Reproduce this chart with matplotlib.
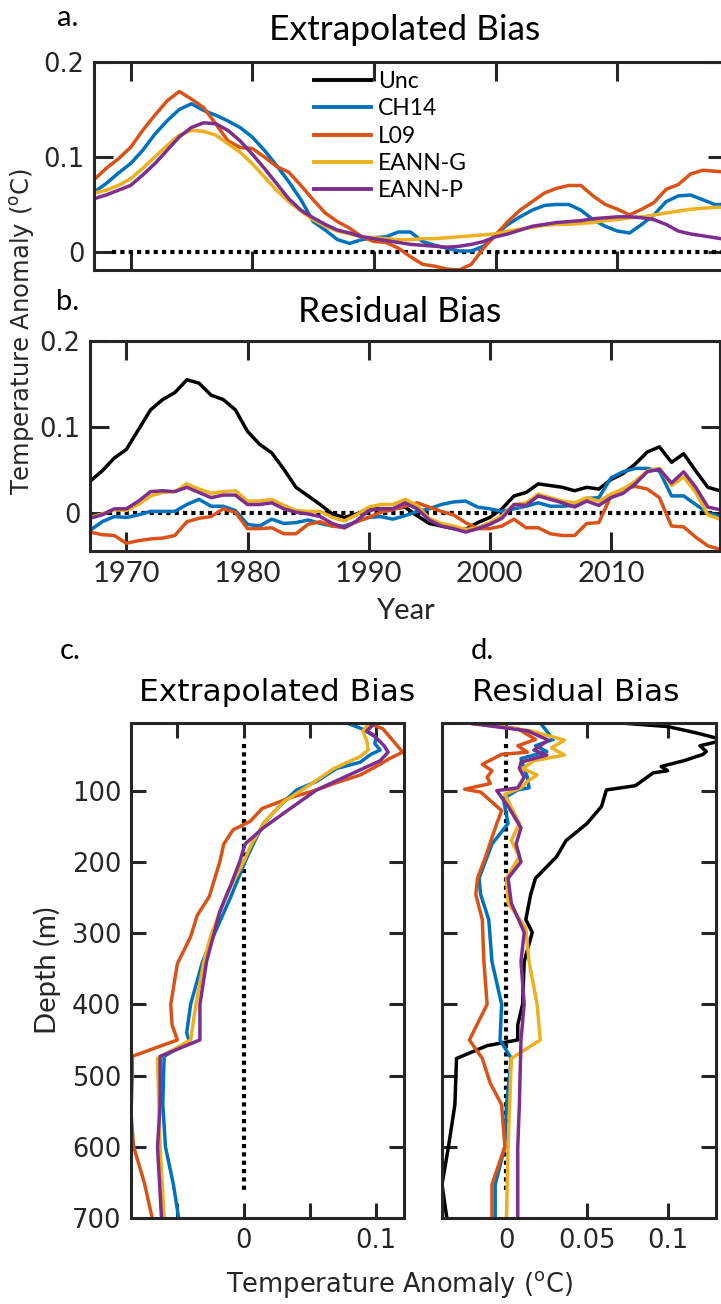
import numpy as np
import matplotlib
matplotlib.use("Agg")
import matplotlib.pyplot as plt
from matplotlib.lines import Line2D

# ---- data -------------------------------------------------------------
years = list(range(1967, 2020))

labels = ['Unc', 'CH14', 'L09', 'EANN-G', 'EANN-P']
colors = ['#000000', '#0072BD', '#D95319', '#EDB120', '#7E2F8E']

# a. extrapolated bias vs year
a_ch14 = [0.063, 0.072, 0.083, 0.093, 0.107, 0.124, 0.138, 0.150, 0.156, 0.149,
          0.144, 0.138, 0.131, 0.121, 0.107, 0.091, 0.074, 0.055, 0.032, 0.023,
          0.013, 0.009, 0.013, 0.015, 0.016, 0.021, 0.021, 0.011, 0.007, 0.004,
          0.001, 0.001, 0.006, 0.018, 0.029, 0.037, 0.044, 0.049, 0.050, 0.050,
          0.044, 0.034, 0.027, 0.022, 0.020, 0.029, 0.039, 0.053, 0.059, 0.060,
          0.055, 0.050, 0.050]
a_l09 = [0.076, 0.088, 0.098, 0.110, 0.128, 0.144, 0.159, 0.169, 0.161, 0.152,
         0.135, 0.117, 0.110, 0.109, 0.100, 0.090, 0.084, 0.070, 0.055, 0.041,
         0.032, 0.025, 0.016, 0.011, 0.010, 0.004, -0.005, -0.013, -0.015, -0.018,
         -0.019, -0.013, 0.004, 0.018, 0.032, 0.044, 0.053, 0.062, 0.067, 0.070,
         0.070, 0.059, 0.050, 0.045, 0.039, 0.045, 0.052, 0.066, 0.071, 0.082,
         0.086, 0.085, 0.084]
a_eanng = [0.062, 0.065, 0.070, 0.077, 0.088, 0.100, 0.112, 0.123, 0.128, 0.127,
           0.123, 0.114, 0.105, 0.093, 0.079, 0.065, 0.053, 0.043, 0.034, 0.027,
           0.022, 0.019, 0.016, 0.015, 0.014, 0.013, 0.013, 0.014, 0.014, 0.015,
           0.016, 0.017, 0.018, 0.019, 0.022, 0.024, 0.026, 0.028, 0.029, 0.029,
           0.030, 0.031, 0.033, 0.034, 0.036, 0.037, 0.039, 0.041, 0.043, 0.045,
           0.046, 0.047, 0.047]
a_eannp = [0.056, 0.060, 0.065, 0.070, 0.081, 0.093, 0.107, 0.121, 0.131, 0.136,
           0.135, 0.128, 0.117, 0.103, 0.088, 0.072, 0.056, 0.044, 0.036, 0.029,
           0.023, 0.020, 0.016, 0.014, 0.012, 0.010, 0.008, 0.007, 0.006, 0.005,
           0.006, 0.008, 0.011, 0.016, 0.019, 0.023, 0.027, 0.029, 0.031, 0.032,
           0.033, 0.035, 0.036, 0.037, 0.037, 0.036, 0.034, 0.029, 0.022, 0.019,
           0.017, 0.015, 0.013]

# b. residual bias vs year
b_unc = [0.037, 0.049, 0.064, 0.074, 0.097, 0.120, 0.132, 0.140, 0.155, 0.151,
         0.137, 0.132, 0.120, 0.095, 0.080, 0.070, 0.051, 0.030, 0.020, 0.010,
         -0.001, -0.005, -0.001, 0.005, 0.005, 0.005, 0.007, -0.003, -0.012, -0.015,
         -0.018, -0.019, -0.011, -0.005, 0.005, 0.020, 0.024, 0.034, 0.032, 0.030,
         0.026, 0.030, 0.028, 0.039, 0.046, 0.057, 0.071, 0.077, 0.059, 0.069,
         0.049, 0.030, 0.026]
b_ch14 = [-0.020, -0.010, -0.004, -0.005, -0.002, 0.002, 0.002, 0.002, 0.010, 0.016,
          0.008, 0.008, 0.003, -0.013, -0.015, -0.007, -0.012, -0.011, -0.008, -0.012,
          -0.015, -0.015, -0.010, -0.005, -0.004, -0.007, -0.003, 0.002, 0.005, 0.010,
          0.013, 0.014, 0.007, 0.005, 0.002, 0.005, 0.008, 0.012, 0.008, 0.008,
          0.009, 0.017, 0.018, 0.041, 0.048, 0.052, 0.052, 0.049, 0.020, 0.020,
          0.010, 0.000, -0.004]
b_l09 = [-0.022, -0.025, -0.026, -0.035, -0.032, -0.030, -0.029, -0.026, -0.010, -0.006,
         -0.004, 0.005, 0.001, -0.018, -0.018, -0.017, -0.024, -0.024, -0.013, -0.010,
         -0.015, -0.017, -0.010, -0.005, 0.001, 0.004, 0.008, 0.012, 0.007, 0.002,
         -0.002, -0.011, -0.018, -0.018, -0.015, -0.007, -0.017, -0.017, -0.024, -0.026,
         -0.026, -0.012, -0.011, 0.020, 0.028, 0.031, 0.028, 0.018, -0.015, -0.016,
         -0.028, -0.038, -0.042]
b_eanng = [-0.005, -0.001, 0.004, 0.003, 0.010, 0.020, 0.024, 0.025, 0.034, 0.028,
           0.023, 0.025, 0.026, 0.014, 0.014, 0.016, 0.009, 0.003, 0.002, 0.002,
           -0.005, -0.009, -0.002, 0.007, 0.010, 0.010, 0.016, 0.009, -0.006, -0.012,
           -0.015, -0.019, -0.017, -0.011, -0.003, 0.010, 0.012, 0.022, 0.018, 0.014,
           0.012, 0.018, 0.014, 0.022, 0.028, 0.037, 0.049, 0.052, 0.032, 0.042,
           0.024, -0.002, -0.007]
b_eannp = [-0.006, -0.002, 0.005, 0.005, 0.014, 0.025, 0.026, 0.025, 0.030, 0.024,
           0.018, 0.021, 0.021, 0.010, 0.010, 0.012, 0.005, 0.001, -0.001, -0.004,
           -0.012, -0.017, -0.009, 0.003, 0.005, 0.005, 0.012, 0.005, -0.008, -0.015,
           -0.018, -0.022, -0.018, -0.013, -0.006, 0.010, 0.009, 0.020, 0.016, 0.012,
           0.007, 0.014, 0.009, 0.018, 0.023, 0.034, 0.048, 0.051, 0.035, 0.048,
           0.030, 0.007, 0.004]

# c. extrapolated bias vs depth
c_ch14_depth = [5, 13, 25, 34, 43, 49, 60, 69, 87, 99, 116, 146, 172, 200, 246, 305,
                340, 400, 440, 452, 473, 540, 600, 653, 700]
c_ch14 = [0.078, 0.089, 0.100, 0.099, 0.103, 0.096, 0.088, 0.070, 0.055, 0.040,
          0.030, 0.015, 0.008, 0.001, -0.009, -0.023, -0.031, -0.040, -0.043, -0.041,
          -0.060, -0.061, -0.059, -0.053, -0.049]
c_l09_depth = [5, 13, 37, 46, 55, 63, 78, 90, 99, 110, 125, 143, 155, 175, 200, 249,
               275, 305, 343, 400, 429, 450, 473, 500, 553, 600, 650, 700]
c_l09 = [0.093, 0.105, 0.116, 0.120, 0.110, 0.103, 0.088, 0.068, 0.055, 0.035,
         0.014, 0.005, -0.008, -0.015, -0.018, -0.026, -0.035, -0.040, -0.050, -0.055,
         -0.054, -0.050, -0.084, -0.084, -0.085, -0.083, -0.075, -0.069]
c_eanng_depth = [5, 16, 31, 43, 52, 69, 93, 116, 146, 175, 200, 246, 305, 340, 400,
                 450, 476, 540, 600, 700]
c_eanng = [0.095, 0.090, 0.093, 0.094, 0.088, 0.068, 0.049, 0.030, 0.015, 0.006,
           0.000, -0.013, -0.025, -0.030, -0.036, -0.040, -0.065, -0.064, -0.063, -0.060]
c_eannp_depth = [5, 16, 22, 37, 46, 58, 75, 99, 128, 152, 175, 200, 234, 270, 305,
                 340, 400, 450, 473, 540, 600, 700]
c_eannp = [0.099, 0.093, 0.098, 0.106, 0.109, 0.103, 0.083, 0.055, 0.033, 0.015,
           0.001, -0.003, -0.010, -0.018, -0.023, -0.028, -0.033, -0.033, -0.063, -0.063,
           -0.065, -0.062]

# d. residual bias vs depth
d_unc_depth = [5, 10, 19, 29, 37, 45, 49, 58, 66, 72, 75, 93, 99, 122, 146, 170, 193,
               223, 246, 281, 299, 340, 400, 429, 450, 458, 476, 541, 600, 653, 700]
d_unc = [0.071, 0.100, 0.118, 0.135, 0.120, 0.124, 0.122, 0.110, 0.096, 0.100,
         0.091, 0.080, 0.062, 0.059, 0.050, 0.037, 0.031, 0.018, 0.015, 0.012,
         0.016, 0.011, 0.010, 0.007, 0.007, -0.012, -0.031, -0.032, -0.036, -0.040,
         -0.037]
d_ch14_depth = [5, 28, 37, 45, 55, 69, 81, 96, 99, 111, 146, 175, 223, 246, 281, 340,
                400, 450, 476, 541, 600, 653, 700]
d_ch14 = [0.021, 0.029, 0.018, 0.025, 0.009, 0.011, 0.013, 0.014, 0.007, -0.002,
          0.001, -0.009, -0.017, -0.016, -0.011, -0.009, -0.003, -0.004, 0.003, 0.000,
          -0.001, -0.007, -0.007]
d_l09_depth = [5, 13, 28, 37, 46, 49, 63, 72, 81, 90, 98, 102, 128, 146, 193, 223, 246,
               281, 340, 400, 450, 476, 511, 541, 600, 653, 700]
d_l09 = [-0.024, 0.007, 0.018, 0.007, 0.013, -0.003, -0.015, -0.009, -0.012, -0.010,
         -0.026, -0.016, -0.003, -0.006, -0.013, -0.018, -0.019, -0.015, -0.014, -0.012,
         -0.023, -0.015, -0.010, -0.003, -0.001, -0.009, -0.009]
d_eanng_depth = [5, 16, 29, 40, 50, 58, 69, 78, 87, 96, 105, 146, 170, 193, 223, 258,
                 293, 340, 400, 450, 476, 541, 600, 700]
d_eanng = [-0.022, 0.015, 0.036, 0.028, 0.036, 0.017, 0.010, 0.019, 0.013, 0.009,
           -0.001, 0.008, 0.003, 0.008, 0.000, 0.001, 0.012, 0.014, 0.019, 0.021,
           0.003, 0.002, 0.001, 0.000]
d_eannp_depth = [5, 16, 29, 43, 50, 60, 69, 81, 96, 100, 122, 152, 175, 200, 223, 258,
                 299, 340, 400, 450, 541, 600, 700]
d_eannp = [-0.024, 0.013, 0.026, 0.017, 0.025, 0.009, 0.008, 0.011, 0.007, -0.006,
           0.001, 0.009, 0.006, 0.009, 0.001, 0.003, 0.011, 0.009, 0.011, 0.009,
           0.008, 0.007, 0.007]

# ---- figure -----------------------------------------------------------
W, H = 721, 1304
fig = plt.figure(figsize=(W / 100, H / 100), dpi=100)

DARK = '#262626'
NARROW = ['Lato', 'DejaVu Sans']
LW = 2.5


def px_axes(left, top, right, bottom):
    return fig.add_axes([left / W, 1 - bottom / H, (right - left) / W, (bottom - top) / H])


def style(ax, ticklen):
    for s in ax.spines.values():
        s.set_linewidth(2.2)
        s.set_color(DARK)
    ax.tick_params(direction='in', length=ticklen, width=2.2, color=DARK,
                   top=True, right=True, labelcolor=DARK, labelsize=18.5, pad=7)


def ftext(x, y, s, **kw):
    fig.text(x / W, 1 - y / H, s, **kw)


dotted = dict(color='k', lw=3.0, linestyle=(0, (1, 1)))

# a
ax_a = px_axes(94, 62, 727, 270)
ax_a.plot([1968.5, 2018.5], [0, 0], **dotted)
for vals, c in zip([a_ch14, a_l09, a_eanng, a_eannp], colors[1:]):
    ax_a.plot(years, vals, color=c, lw=LW)
ax_a.set_xlim(1967, 2019)
ax_a.set_ylim(-0.019, 0.2)
ax_a.set_xticks([1970, 1980, 1990, 2000, 2010])
ax_a.set_xticklabels([])
ax_a.set_yticks([0, 0.1, 0.2])
ax_a.set_yticklabels(['0', '0.1', '0.2'])
style(ax_a, 14)
handles = [Line2D([], [], color=c, lw=2.8) for c in colors]
ax_a.legend(handles, labels, loc='upper left', bbox_to_anchor=((305 - 94) / 633, 1.0),
            frameon=False, prop={'family': NARROW, 'size': 16.5}, handlelength=2.5,
            handletextpad=0.3, labelspacing=0.27, borderaxespad=0.0)

# b
ax_b = px_axes(90, 341, 720, 551)
ax_b.plot([1968.5, 2018.5], [0, 0], **dotted)
for vals, c in zip([b_unc, b_ch14, b_l09, b_eanng, b_eannp], colors):
    ax_b.plot(years, vals, color=c, lw=LW)
ax_b.set_xlim(1967, 2019)
ax_b.set_ylim(-0.044, 0.2)
ax_b.set_xticks([1970, 1980, 1990, 2000, 2010])
ax_b.set_yticks([0, 0.1, 0.2])
ax_b.set_yticklabels(['0', '0.1', '0.2'])
style(ax_b, 14)
for t in ax_b.get_xticklabels():
    t.set_family(NARROW)
    t.set_fontsize(21)
ax_b.set_xlabel('Year', family=NARROW, fontsize=21, color=DARK, labelpad=8)

# c
ax_c = px_axes(131, 723, 404, 1218)
ax_c.plot([0, 0], [35, 665], **dotted)
for vals, dep, c in zip([c_ch14, c_l09, c_eanng, c_eannp],
                        [c_ch14_depth, c_l09_depth, c_eanng_depth, c_eannp_depth], colors[1:]):
    ax_c.plot(vals, dep, color=c, lw=LW)
ax_c.set_xlim(-0.085, 0.121)
ax_c.set_ylim(700, 5)
ax_c.set_xticks([-0.05, 0, 0.05, 0.1])
ax_c.set_xticklabels(['', '0', '', '0.1'])
ax_c.set_yticks([100, 200, 300, 400, 500, 600, 700])
style(ax_c, 11)
ax_c.set_ylabel('Depth (m)', family=NARROW, fontsize=21, color=DARK, labelpad=8)

# d
ax_d = px_axes(442, 723, 716, 1218)
ax_d.plot([0, 0], [35, 665], **dotted)
for vals, dep, c in zip([d_unc, d_ch14, d_l09, d_eanng, d_eannp],
                        [d_unc_depth, d_ch14_depth, d_l09_depth, d_eanng_depth, d_eannp_depth],
                        colors):
    ax_d.plot(vals, dep, color=c, lw=LW)
ax_d.set_xlim(-0.04, 0.13)
ax_d.set_ylim(700, 5)
ax_d.set_xticks([0, 0.05, 0.1])
ax_d.set_xticklabels(['0', '0.05', '0.1'])
ax_d.set_yticks([100, 200, 300, 400, 500, 600, 700])
ax_d.set_yticklabels([])
style(ax_d, 11)

# titles and labels
ftext(68, 18, 'a.', family=NARROW, fontsize=21, ha='center', va='center')
ftext(405, 30, 'Extrapolated Bias', family=NARROW, fontsize=25.5, ha='center', va='center')
ftext(68, 302, 'b.', family=NARROW, fontsize=21, ha='center', va='center')
ftext(400, 312, 'Residual Bias', family=NARROW, fontsize=25.5, ha='center', va='center')
ftext(70, 651, 'c.', family=NARROW, fontsize=21, ha='center', va='center')
ftext(482, 651, 'd.', family=NARROW, fontsize=21, ha='center', va='center')
ftext(277, 692, 'Extrapolated Bias', fontsize=22.5, ha='center', va='center', color='k')
ftext(576, 692, 'Residual Bias', fontsize=22.5, ha='center', va='center', color='k')
ftext(23, 331, r'Temperature Anomaly ($^{\rm o}$C)', fontsize=17.5, rotation=90,
      ha='center', va='center', color=DARK)
ftext(400, 1285, r'Temperature Anomaly ($^{\rm o}$C)', fontsize=18.5,
      ha='center', va='center', color=DARK)

fig.savefig('out.png', dpi=100)
